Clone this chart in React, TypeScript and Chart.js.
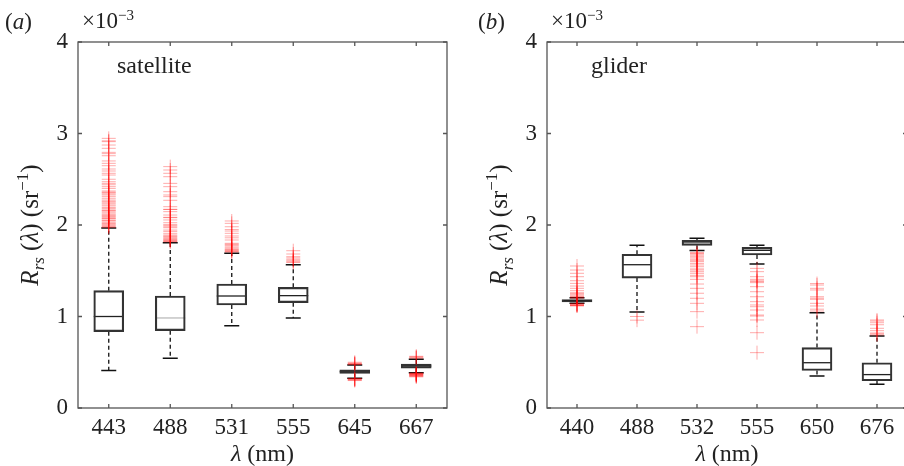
import React, { useEffect, useRef } from 'react';
import { Chart, registerables } from 'chart.js';
Chart.register(...registerables);

const FONT = "'Liberation Serif', 'Times New Roman', serif";
const TEXT = '#222';

// ---------- (a) satellite ----------
const SAT_LABELS = ['443', '488', '531', '555', '645', '667'];
const SAT_WHISKER_LO = [0.41, 0.543, 0.9, 0.984, 0.325, 0.385];
const SAT_Q1 = [0.834, 0.845, 1.126, 1.151, 0.378, 0.436];
const SAT_MEDIAN = [1.0, 0.984, 1.224, 1.228, 0.398, 0.459];
const SAT_Q3 = [1.282, 1.224, 1.355, 1.319, 0.418, 0.48];
const SAT_WHISKER_HI = [1.967, 1.807, 1.69, 1.566, 0.47, 0.532];
const SAT_OUT_443 = [2.947, 2.92, 2.911, 2.874, 2.838, 2.794, 2.78, 2.757, 2.7, 2.674, 2.648, 2.612, 2.59, 2.565, 2.546, 2.5, 2.473, 2.455, 2.44, 2.419, 2.4, 2.372, 2.36, 2.353, 2.34, 2.328, 2.31, 2.292, 2.273, 2.26, 2.25, 2.237, 2.22, 2.208, 2.19, 2.182, 2.164, 2.16, 2.15, 2.134, 2.12, 2.109, 2.1, 2.091, 2.08, 2.07, 2.066, 2.05, 2.044, 2.03, 2.018, 2.01, 2.0, 1.99, 1.981, 1.975];
const SAT_OUT_488 = [2.638, 2.601, 2.565, 2.528, 2.455, 2.419, 2.364, 2.328, 2.31, 2.27, 2.2, 2.171, 2.17, 2.146, 2.109, 2.084, 2.08, 2.055, 2.025, 2.0, 2.0, 1.981, 1.97, 1.945, 1.93, 1.909, 1.891, 1.88, 1.872, 1.86, 1.854, 1.84, 1.836, 1.83, 1.82, 1.817];
const SAT_OUT_531 = [2.044, 2.018, 1.981, 1.95, 1.934, 1.909, 1.88, 1.86, 1.836, 1.8, 1.79, 1.781, 1.77, 1.756, 1.74, 1.734, 1.725, 1.719, 1.71, 1.705];
const SAT_OUT_555 = [1.719, 1.683, 1.654, 1.64, 1.625, 1.61, 1.599, 1.59];
const SAT_OUT_645 = [0.5, 0.49, 0.485, 0.48, 0.475, 0.322, 0.32, 0.315, 0.31, 0.305, 0.3];
const SAT_OUT_667 = [0.565, 0.56, 0.55, 0.545, 0.38, 0.38, 0.375, 0.37, 0.37, 0.365, 0.36, 0.36, 0.355, 0.35, 0.345, 0.34];
const SAT_OUTLIERS = [SAT_OUT_443, SAT_OUT_488, SAT_OUT_531, SAT_OUT_555, SAT_OUT_645, SAT_OUT_667];

// ---------- (b) glider ----------
const GLI_LABELS = ['440', '488', '532', '555', '650', '676'];
const GLI_WHISKER_LO = [1.145, 1.049, 1.72, 1.574, 0.35, 0.259];
const GLI_Q1 = [1.16, 1.42, 1.778, 1.672, 0.41, 0.298];
const GLI_MEDIAN = [1.173, 1.566, 1.814, 1.723, 0.495, 0.365];
const GLI_Q3 = [1.186, 1.68, 1.833, 1.756, 0.66, 0.495];
const GLI_WHISKER_HI = [1.205, 1.778, 1.855, 1.78, 1.04, 0.787];
const GLI_OUT_440 = [1.552, 1.508, 1.472, 1.435, 1.391, 1.362, 1.333, 1.308, 1.282, 1.26, 1.25, 1.238, 1.225, 1.216, 1.21, 1.2, 1.14, 1.137, 1.13, 1.125, 1.122, 1.12, 1.115];
const GLI_OUT_488 = [1.0, 0.96];
const GLI_OUT_532 = [1.7, 1.69, 1.683, 1.67, 1.654, 1.64, 1.625, 1.61, 1.599, 1.58, 1.563, 1.544, 1.52, 1.508, 1.49, 1.472, 1.45, 1.435, 1.406, 1.355, 1.308, 1.254, 1.199, 1.144, 1.053, 0.889];
const GLI_OUT_555 = [1.526, 1.49, 1.435, 1.406, 1.39, 1.381, 1.37, 1.326, 1.271, 1.216, 1.162, 1.126, 1.107, 1.071, 1.016, 1.005, 0.962, 0.823, 0.605];
const GLI_OUT_650 = [1.36, 1.344, 1.308, 1.29, 1.216, 1.2, 1.188, 1.144, 1.115, 1.08, 1.06];
const GLI_OUT_676 = [0.962, 0.95, 0.932, 0.91, 0.871, 0.845, 0.82, 0.81, 0.798];
const GLI_OUTLIERS = [GLI_OUT_440, GLI_OUT_488, GLI_OUT_532, GLI_OUT_555, GLI_OUT_650, GLI_OUT_676];

const Y_TICKS = [0, 1, 2, 3, 4];

type Run = { t: string; italic?: boolean; size?: number; shift?: number };

function drawRuns(ctx: CanvasRenderingContext2D, runs: Run[], x: number, y: number, base: number, align: 'left' | 'center') {
  const fontOf = (r: Run) => `${r.italic ? 'italic ' : ''}${r.size ?? base}px ${FONT}`;
  let total = 0;
  for (const r of runs) { ctx.font = fontOf(r); total += ctx.measureText(r.t).width; }
  let cx = align === 'center' ? x - total / 2 : x;
  ctx.textAlign = 'left';
  ctx.textBaseline = 'alphabetic';
  for (const r of runs) {
    ctx.font = fontOf(r);
    ctx.fillText(r.t, cx, y + (r.shift ?? 0));
    cx += ctx.measureText(r.t).width;
  }
}

type PanelCfg = {
  labels: string[];
  lo: number[]; q1: number[]; med: number[]; q3: number[]; hi: number[];
  outliers: number[][];
  medianColors: string[];
  yAxisWidth: number;
  letter: string;
  letterX: number;
  name: string;
  nameDX: number;
};

function makeChart(canvas: HTMLCanvasElement, p: PanelCfg) {
  const points = p.labels.flatMap((l, i) => p.outliers[i].map((v) => ({ x: l, y: v })));
  const boxPlugin = {
    id: 'boxExtras',
    beforeDatasetsDraw(chart: any) {
      const { ctx, scales } = chart;
      const xs = scales.x, ys = scales.y;
      ctx.save();
      p.labels.forEach((_, i) => {
        const x = xs.getPixelForValue(i);
        const yLo = ys.getPixelForValue(p.lo[i]);
        const yQ1 = ys.getPixelForValue(p.q1[i]);
        const yQ3 = ys.getPixelForValue(p.q3[i]);
        const yHi = ys.getPixelForValue(p.hi[i]);
        const yMed = ys.getPixelForValue(p.med[i]);
        ctx.strokeStyle = '#111';
        ctx.lineWidth = 1.3;
        ctx.setLineDash([4, 3]);
        ctx.beginPath();
        ctx.moveTo(x, yQ3); ctx.lineTo(x, yHi);
        ctx.moveTo(x, yQ1); ctx.lineTo(x, yLo);
        ctx.stroke();
        ctx.setLineDash([]);
        ctx.lineWidth = 1.5;
        ctx.beginPath();
        ctx.moveTo(x - 7.5, yHi); ctx.lineTo(x + 7.5, yHi);
        ctx.moveTo(x - 7.5, yLo); ctx.lineTo(x + 7.5, yLo);
        ctx.stroke();
        ctx.strokeStyle = p.medianColors[i];
        ctx.lineWidth = 1.3;
        ctx.beginPath();
        ctx.moveTo(x - 15, yMed); ctx.lineTo(x + 15, yMed);
        ctx.stroke();
      });
      ctx.restore();
    },
    afterDraw(chart: any) {
      const { ctx, scales, chartArea: a } = chart;
      const xs = scales.x, ys = scales.y;
      ctx.save();
      ctx.strokeStyle = '#555';
      ctx.lineWidth = 1.3;
      ctx.strokeRect(a.left, a.top, a.right - a.left, a.bottom - a.top);
      ctx.beginPath();
      p.labels.forEach((_, i) => {
        const x = xs.getPixelForValue(i);
        ctx.moveTo(x, a.bottom); ctx.lineTo(x, a.bottom - 4);
        ctx.moveTo(x, a.top); ctx.lineTo(x, a.top + 4);
      });
      Y_TICKS.forEach((v) => {
        const y = ys.getPixelForValue(v);
        ctx.moveTo(a.left, y); ctx.lineTo(a.left + 4, y);
        ctx.moveTo(a.right, y); ctx.lineTo(a.right - 4, y);
      });
      ctx.stroke();

      ctx.fillStyle = TEXT;
      // panel letter
      drawRuns(ctx, [{ t: '(' }, { t: p.letter, italic: true }, { t: ')' }], p.letterX, 29, 23, 'left');
      // exponent
      drawRuns(ctx, [{ t: '×10' }, { t: '−3', size: 15, shift: -8 }], a.left + 4, 28, 23, 'left');
      // panel name
      drawRuns(ctx, [{ t: p.name }], a.left + p.nameDX, a.top + 31, 24, 'left');
      // x title
      drawRuns(ctx, [{ t: 'λ', italic: true }, { t: ' (nm)' }], (a.left + a.right) / 2, 461, 24, 'center');
      // y title
      ctx.save();
      ctx.translate(a.left - 40, (a.top + a.bottom) / 2);
      ctx.rotate(-Math.PI / 2);
      drawRuns(ctx, [
        { t: 'R', italic: true },
        { t: 'rs', italic: true, size: 17, shift: 6 },
        { t: ' (' },
        { t: 'λ', italic: true },
        { t: ') (sr' },
        { t: '−1', size: 17, shift: -10 },
        { t: ')' },
      ], 0, 0, 25, 'center');
      ctx.restore();
      ctx.restore();
    },
  };

  return new Chart(canvas, {
    type: 'bar',
    data: {
      labels: p.labels,
      datasets: [
        {
          type: 'line',
          data: points as any,
          showLine: false,
          pointStyle: 'cross',
          pointRadius: 7,
          pointHoverRadius: 7,
          pointBorderColor: 'rgba(255,0,0,0.33)',
          pointBackgroundColor: 'rgba(0,0,0,0)',
          pointBorderWidth: 1,
        } as any,
        {
          type: 'bar',
          data: p.labels.map((_, i) => [p.q1[i], p.q3[i]]) as any,
          backgroundColor: 'rgba(0,0,0,0)',
          borderColor: '#333',
          borderWidth: 1.5,
          borderSkipped: false,
          barThickness: 30,
        } as any,
      ],
    },
    options: {
      responsive: false,
      animation: false,
      devicePixelRatio: 1,
      events: [],
      layout: { padding: { left: 0, top: 42, right: 13, bottom: 0 } },
      plugins: { legend: { display: false }, tooltip: { enabled: false } },
      scales: {
        x: {
          type: 'category',
          offset: true,
          grid: { display: false, drawTicks: false },
          border: { display: false },
          ticks: { font: { family: FONT, size: 23 }, color: TEXT, padding: 6, maxRotation: 0, autoSkip: false },
          afterFit: (s: any) => { s.height = 58; },
        },
        y: {
          min: 0,
          max: 4,
          grid: { display: false, drawTicks: false },
          border: { display: false },
          ticks: { stepSize: 1, font: { family: FONT, size: 23 }, color: TEXT, padding: 10 },
          afterFit: (s: any) => { s.width = p.yAxisWidth; },
        },
      },
    } as any,
    plugins: [boxPlugin],
  });
}

export default function App() {
  const leftRef = useRef<HTMLCanvasElement>(null);
  const rightRef = useRef<HTMLCanvasElement>(null);
  useEffect(() => {
    const c1 = makeChart(leftRef.current!, {
      labels: SAT_LABELS, lo: SAT_WHISKER_LO, q1: SAT_Q1, med: SAT_MEDIAN, q3: SAT_Q3, hi: SAT_WHISKER_HI,
      outliers: SAT_OUTLIERS,
      medianColors: ['#222', '#bbb', '#222', '#222', '#222', '#222'],
      yAxisWidth: 78, letter: 'a', letterX: 5, name: 'satellite', nameDX: 39,
    });
    const c2 = makeChart(rightRef.current!, {
      labels: GLI_LABELS, lo: GLI_WHISKER_LO, q1: GLI_Q1, med: GLI_MEDIAN, q3: GLI_Q3, hi: GLI_WHISKER_HI,
      outliers: GLI_OUTLIERS,
      medianColors: ['#222', '#222', '#222', '#222', '#222', '#222'],
      yAxisWidth: 87, letter: 'b', letterX: 18, name: 'glider', nameDX: 44,
    });
    return () => { c1.destroy(); c2.destroy(); };
  }, []);
  return (
    <div style={{ position: 'fixed', left: 0, top: 0, width: 904, height: 466, overflow: 'hidden', background: '#fff' }}>
      <canvas ref={leftRef} width={460} height={466} style={{ position: 'absolute', left: 0, top: 0 }} />
      <canvas ref={rightRef} width={460} height={466} style={{ position: 'absolute', left: 460, top: 0 }} />
    </div>
  );
}
